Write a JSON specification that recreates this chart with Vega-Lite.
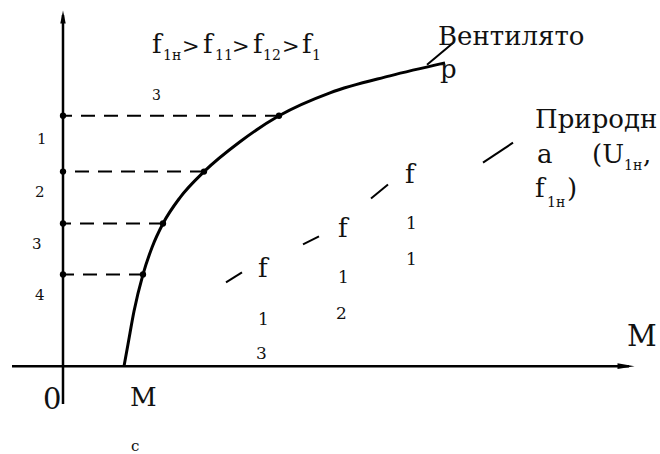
{
  "$schema": "https://vega.github.io/schema/vega-lite/v6.json",
  "width": 660,
  "height": 454,
  "padding": 0,
  "autosize": {"type": "fit", "contains": "padding"},
  "config": {"view": {"stroke": null}, "background": "white", "text": {"font": "DejaVu Serif"}},
  "datasets": {
    "axes": [
      {"axis": "M", "x": -51, "y": 0, "x2": 566, "y2": 0},
      {"axis": "N", "x": 0, "y": -38, "x2": 0, "y2": 352}
    ],
    "fan": [
      {"m": 61, "n": 0}, {"m": 65, "n": 22}, {"m": 71, "n": 55}, {"m": 80, "n": 92},
      {"m": 89, "n": 119}, {"m": 100, "n": 143}, {"m": 117, "n": 169}, {"m": 141, "n": 195},
      {"m": 177, "n": 225}, {"m": 216, "n": 251}, {"m": 267, "n": 274}, {"m": 327, "n": 291},
      {"m": 382, "n": 304}
    ],
    "pointer": [{"x": 364, "y": 302, "x2": 390, "y2": 324}],
    "levels": [
      {"level": "1", "m": 216, "n": 251},
      {"level": "2", "m": 141, "n": 195},
      {"level": "3", "m": 100, "n": 143},
      {"level": "4", "m": 80, "n": 92}
    ],
    "natural": [
      {"x": 163, "y": 84, "x2": 179, "y2": 94},
      {"x": 240, "y": 122, "x2": 256, "y2": 130},
      {"x": 308, "y": 168, "x2": 325, "y2": 182},
      {"x": 420, "y": 204, "x2": 450, "y2": 224}
    ],
    "labels": [
      {"x": 89, "y": 314, "t": "f", "kind": "big"},
      {"x": 119, "y": 314, "t": ">", "kind": "op"},
      {"x": 140, "y": 314, "t": "f", "kind": "big"},
      {"x": 169, "y": 314, "t": ">", "kind": "op"},
      {"x": 190, "y": 314, "t": "f", "kind": "big"},
      {"x": 219, "y": 314, "t": ">", "kind": "op"},
      {"x": 239, "y": 314, "t": "f", "kind": "big"},
      {"x": 100, "y": 307, "t": "1н", "kind": "sub"},
      {"x": 152, "y": 307, "t": "11", "kind": "sub"},
      {"x": 200, "y": 307, "t": "12", "kind": "sub"},
      {"x": 249, "y": 307, "t": "1", "kind": "sub"},
      {"x": 89, "y": 267, "t": "3", "kind": "sub"},
      {"x": -26, "y": 223, "t": "1", "kind": "label"},
      {"x": -28, "y": 170, "t": "2", "kind": "label"},
      {"x": -31, "y": 117, "t": "3", "kind": "label"},
      {"x": -28, "y": 66, "t": "4", "kind": "label"},
      {"x": 195, "y": 89, "t": "f", "kind": "big"},
      {"x": 195, "y": 41, "t": "1", "kind": "digit"},
      {"x": 193, "y": 7, "t": "3", "kind": "digit"},
      {"x": 275, "y": 129, "t": "f", "kind": "big"},
      {"x": 275, "y": 83, "t": "1", "kind": "digit"},
      {"x": 273, "y": 47, "t": "2", "kind": "digit"},
      {"x": 342, "y": 184, "t": "f", "kind": "big"},
      {"x": 343, "y": 137, "t": "1", "kind": "digit"},
      {"x": 343, "y": 101, "t": "1", "kind": "digit"},
      {"x": 375, "y": 322, "t": "Вентилято", "kind": "big"},
      {"x": 377, "y": 289, "t": "р", "kind": "big"},
      {"x": 472, "y": 239, "t": "Природн", "kind": "big"},
      {"x": 474, "y": 204, "t": "а", "kind": "big"},
      {"x": 529, "y": 204, "t": "(U", "kind": "big"},
      {"x": 561, "y": 197, "t": "1н", "kind": "sub"},
      {"x": 580, "y": 204, "t": ",", "kind": "big"},
      {"x": 472, "y": 170, "t": "f", "kind": "big"},
      {"x": 484, "y": 160, "t": "1н", "kind": "sub"},
      {"x": 504, "y": 170, "t": ")", "kind": "big"},
      {"x": 564, "y": 20, "t": "M", "kind": "axis"},
      {"x": -20, "y": -43, "t": "0", "kind": "axis"},
      {"x": 67, "y": -40, "t": "M", "kind": "big"},
      {"x": 68, "y": -85, "t": "c", "kind": "label"}
    ]
  },
  "layer": [
    {
      "data": {"name": "axes"},
      "mark": {"type": "rule", "stroke": "#000", "strokeWidth": 2.5},
      "encoding": {
        "x": {"field": "x", "type": "quantitative", "scale": {"domain": [-63, 597], "nice": false, "zero": false}, "axis": null},
        "y": {"field": "y", "type": "quantitative", "scale": {"domain": [-87, 367], "nice": false, "zero": false}, "axis": null},
        "x2": {"field": "x2"},
        "y2": {"field": "y2"}
      }
    },
    {
      "data": {"values": [{"x": 0, "y": 350}]},
      "mark": {"type": "point", "shape": "M0,-1L0.42,1L-0.42,1Z", "size": 169, "filled": true, "color": "#000", "opacity": 1},
      "encoding": {
        "x": {"field": "x", "type": "quantitative"},
        "y": {"field": "y", "type": "quantitative"}
      }
    },
    {
      "data": {"values": [{"x": 563, "y": 0}]},
      "mark": {"type": "point", "shape": "M0,-1L0.34,1L-0.34,1Z", "size": 289, "angle": 90, "filled": true, "color": "#000", "opacity": 1},
      "encoding": {
        "x": {"field": "x", "type": "quantitative"},
        "y": {"field": "y", "type": "quantitative"}
      }
    },
    {
      "data": {"name": "levels"},
      "mark": {"type": "rule", "stroke": "#000", "strokeWidth": 2, "strokeDash": [14, 9]},
      "encoding": {
        "x": {"field": "m", "type": "quantitative"},
        "x2": {"datum": 0},
        "y": {"field": "n", "type": "quantitative"}
      }
    },
    {
      "data": {"name": "fan"},
      "mark": {"type": "line", "interpolate": "monotone", "stroke": "#000", "strokeWidth": 3},
      "encoding": {
        "x": {"field": "m", "type": "quantitative"},
        "y": {"field": "n", "type": "quantitative"}
      }
    },
    {
      "data": {"name": "pointer"},
      "mark": {"type": "rule", "stroke": "#000", "strokeWidth": 2},
      "encoding": {
        "x": {"field": "x", "type": "quantitative"},
        "y": {"field": "y", "type": "quantitative"},
        "x2": {"field": "x2"},
        "y2": {"field": "y2"}
      }
    },
    {
      "data": {"name": "natural"},
      "mark": {"type": "rule", "stroke": "#000", "strokeWidth": 2},
      "encoding": {
        "x": {"field": "x", "type": "quantitative"},
        "y": {"field": "y", "type": "quantitative"},
        "x2": {"field": "x2"},
        "y2": {"field": "y2"}
      }
    },
    {
      "data": {"name": "levels"},
      "mark": {"type": "point", "shape": "circle", "size": 40, "filled": true, "color": "#000", "opacity": 1},
      "encoding": {
        "x": {"field": "m", "type": "quantitative"},
        "y": {"field": "n", "type": "quantitative"}
      }
    },
    {
      "data": {"name": "levels"},
      "mark": {"type": "point", "shape": "circle", "size": 40, "filled": true, "color": "#000", "opacity": 1},
      "encoding": {
        "x": {"datum": 0, "type": "quantitative"},
        "y": {"field": "n", "type": "quantitative"}
      }
    },
    {
      "data": {"name": "labels"},
      "transform": [{"filter": "datum.kind === 'big'"}],
      "mark": {"type": "text", "font": "DejaVu Serif", "fontSize": 26, "align": "left", "baseline": "alphabetic", "color": "#111"},
      "encoding": {
        "x": {"field": "x", "type": "quantitative"},
        "y": {"field": "y", "type": "quantitative"},
        "text": {"field": "t"}
      }
    },
    {
      "data": {"name": "labels"},
      "transform": [{"filter": "datum.kind === 'op'"}],
      "mark": {"type": "text", "font": "DejaVu Serif", "fontSize": 21, "align": "left", "baseline": "alphabetic", "color": "#111"},
      "encoding": {
        "x": {"field": "x", "type": "quantitative"},
        "y": {"field": "y", "type": "quantitative"},
        "text": {"field": "t"}
      }
    },
    {
      "data": {"name": "labels"},
      "transform": [{"filter": "datum.kind === 'axis'"}],
      "mark": {"type": "text", "font": "DejaVu Serif", "fontSize": 29, "align": "left", "baseline": "alphabetic", "color": "#111"},
      "encoding": {
        "x": {"field": "x", "type": "quantitative"},
        "y": {"field": "y", "type": "quantitative"},
        "text": {"field": "t"}
      }
    },
    {
      "data": {"name": "labels"},
      "transform": [{"filter": "datum.kind === 'sub'"}],
      "mark": {"type": "text", "font": "DejaVu Serif", "fontSize": 14, "align": "left", "baseline": "alphabetic", "color": "#111"},
      "encoding": {
        "x": {"field": "x", "type": "quantitative"},
        "y": {"field": "y", "type": "quantitative"},
        "text": {"field": "t"}
      }
    },
    {
      "data": {"name": "labels"},
      "transform": [{"filter": "datum.kind === 'digit'"}],
      "mark": {"type": "text", "font": "DejaVu Serif", "fontSize": 17, "align": "left", "baseline": "alphabetic", "color": "#111"},
      "encoding": {
        "x": {"field": "x", "type": "quantitative"},
        "y": {"field": "y", "type": "quantitative"},
        "text": {"field": "t"}
      }
    },
    {
      "data": {"name": "labels"},
      "transform": [{"filter": "datum.kind === 'label'"}],
      "mark": {"type": "text", "font": "DejaVu Serif", "fontSize": 15, "align": "left", "baseline": "alphabetic", "color": "#111"},
      "encoding": {
        "x": {"field": "x", "type": "quantitative"},
        "y": {"field": "y", "type": "quantitative"},
        "text": {"field": "t"}
      }
    }
  ]
}
